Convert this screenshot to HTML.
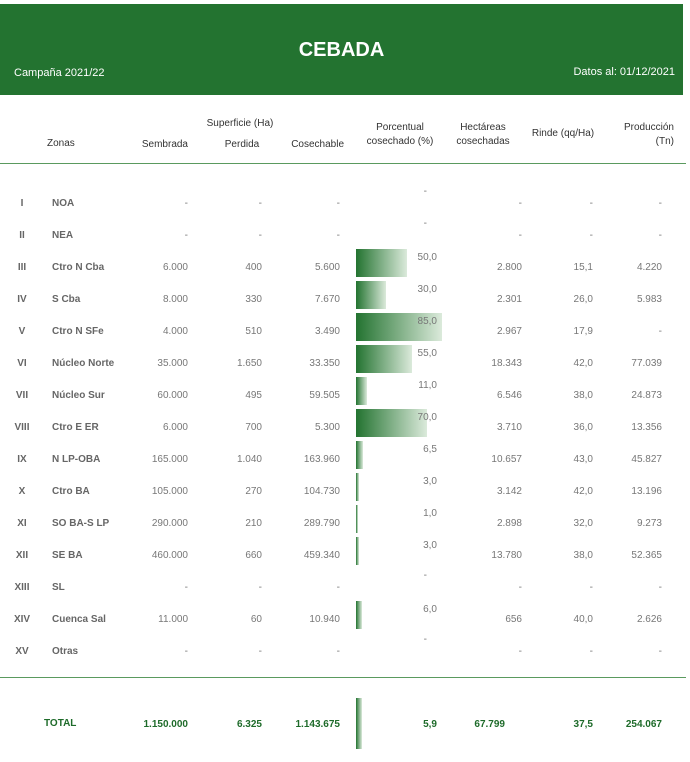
<!DOCTYPE html>
<html><head><meta charset="utf-8"><style>
body{margin:0;width:690px;height:762px;background:#fff;position:relative;font-family:"Liberation Sans",sans-serif;overflow:hidden}
.a{position:absolute;white-space:nowrap}
.r{text-align:right}
.c{text-align:center}
.hd{font-size:10px;color:#333}
.t{font-size:10px;color:#777}
.z{font-size:10px;color:#666;font-weight:bold}
.bar{position:absolute;left:356px;height:28px;background:linear-gradient(to right,#237330,#dbeadb)}
.tot{font-size:10px;color:#1e6b2a;font-weight:bold}
</style></head><body>
<div class="a" style="left:0;top:4px;width:683px;height:91px;background:#237330"></div>
<div class="a" style="left:0;top:39px;width:683px;text-align:center;color:#fff;font-weight:bold;font-size:20px">CEBADA</div>
<div class="a" style="left:14px;top:67px;color:#fff;font-size:11px">Campaña 2021/22</div>
<div class="a r" style="right:15px;top:66px;color:#fff;font-size:11px">Datos al: 01/12/2021</div>

<div class="a hd c" style="left:190px;width:100px;top:118px">Superficie (Ha)</div>
<div class="a hd" style="left:47px;top:138px">Zonas</div>
<div class="a hd r" style="left:120px;width:68px;top:139px">Sembrada</div>
<div class="a hd c" style="left:212px;width:60px;top:139px">Perdida</div>
<div class="a hd r" style="left:270px;width:74px;top:139px">Cosechable</div>
<div class="a hd c" style="left:355px;width:90px;top:121px;line-height:14px">Porcentual<br>cosechado (%)</div>
<div class="a hd c" style="left:448px;width:70px;top:121px;line-height:14px">Hectáreas<br>cosechadas</div>
<div class="a hd c" style="left:525px;width:76px;top:128px">Rinde (qq/Ha)</div>
<div class="a hd r" style="left:600px;width:74px;top:121px;line-height:14px">Producción<br>(Tn)</div>
<div class="a" style="left:0;top:163px;width:686px;height:1px;background:#5a9a5e"></div>
<div class="a" style="left:0;top:677px;width:686px;height:1px;background:#5a9a5e"></div>

<div id="rows"></div>
<script>
var d=[["I","NOA","-","-","-",null,"-","-","-"],["II","NEA","-","-","-",null,"-","-","-"],
["III","Ctro N Cba","6.000","400","5.600",50,"2.800","15,1","4.220"],
["IV","S Cba","8.000","330","7.670",30,"2.301","26,0","5.983"],
["V","Ctro N SFe","4.000","510","3.490",85,"2.967","17,9","-"],
["VI","Núcleo Norte","35.000","1.650","33.350",55,"18.343","42,0","77.039"],
["VII","Núcleo Sur","60.000","495","59.505",11,"6.546","38,0","24.873"],
["VIII","Ctro E ER","6.000","700","5.300",70,"3.710","36,0","13.356"],
["IX","N LP-OBA","165.000","1.040","163.960",6.5,"10.657","43,0","45.827"],
["X","Ctro BA","105.000","270","104.730",3,"3.142","42,0","13.196"],
["XI","SO BA-S LP","290.000","210","289.790",1,"2.898","32,0","9.273"],
["XII","SE BA","460.000","660","459.340",3,"13.780","38,0","52.365"],
["XIII","SL","-","-","-",null,"-","-","-"],
["XIV","Cuenca Sal","11.000","60","10.940",6,"656","40,0","2.626"],
["XV","Otras","-","-","-",null,"-","-","-"]];
var h="";
d.forEach(function(r,i){var y=198+32*i;
h+='<div class="a z c" style="left:4px;width:36px;top:'+y+'px">'+r[0]+'</div>';
h+='<div class="a z" style="left:52px;top:'+y+'px">'+r[1]+'</div>';
h+='<div class="a t r" style="left:100px;width:88px;top:'+y+'px">'+r[2]+'</div>';
h+='<div class="a t r" style="left:200px;width:62px;top:'+y+'px">'+r[3]+'</div>';
h+='<div class="a t r" style="left:260px;width:80px;top:'+y+'px">'+r[4]+'</div>';
h+='<div class="a t r" style="left:460px;width:62px;top:'+y+'px">'+r[6]+'</div>';
h+='<div class="a t r" style="left:530px;width:63px;top:'+y+'px">'+r[7]+'</div>';
h+='<div class="a t r" style="left:590px;width:72px;top:'+y+'px">'+r[8]+'</div>';
if(r[5]===null){h+='<div class="a t r" style="left:400px;width:27px;top:'+(y-12)+'px">-</div>';}
else{var w=Math.max(2,r[5]*1.01);h+='<div class="bar" style="top:'+(y-13)+'px;width:'+w+'px"></div>';
h+='<div class="a t r" style="left:400px;width:37px;top:'+(y-10)+'px">'+(r[5]+"").replace(".",",").replace(/^(\d+)$/,"$1,0")+'</div>';}
});
document.getElementById("rows").innerHTML=h;
</script>
<div class="bar" style="top:698px;height:51px;width:6px"></div>
<div class="a tot" style="left:44px;top:718px">TOTAL</div>
<div class="a tot r" style="left:100px;width:88px;top:719px">1.150.000</div>
<div class="a tot r" style="left:200px;width:62px;top:719px">6.325</div>
<div class="a tot r" style="left:260px;width:80px;top:719px">1.143.675</div>
<div class="a tot r" style="left:400px;width:37px;top:719px">5,9</div>
<div class="a tot r" style="left:460px;width:45px;top:719px">67.799</div>
<div class="a tot r" style="left:530px;width:63px;top:719px">37,5</div>
<div class="a tot r" style="left:590px;width:72px;top:719px">254.067</div>
</body></html>
